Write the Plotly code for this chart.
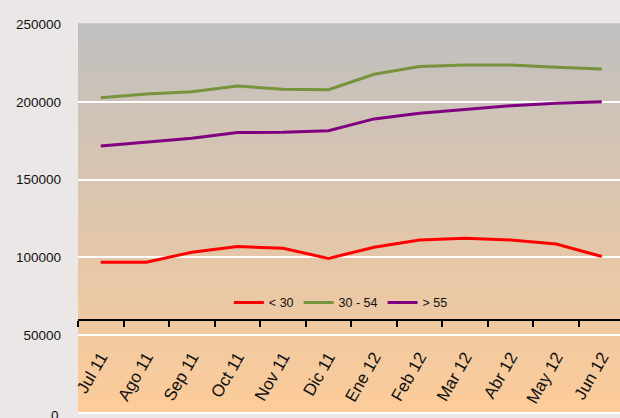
import plotly.graph_objects as go

months = ["Jul 11", "Ago 11", "Sep 11", "Oct 11", "Nov 11", "Dic 11",
          "Ene 12", "Feb 12", "Mar 12", "Abr 12", "May 12", "Jun 12"]
under_30 = [96800, 96800, 103300, 106900, 105800, 99300,
            106500, 111200, 112300, 111200, 108600, 100500]
age_30_54 = [202600, 205000, 206500, 210200, 208000, 207800,
             217700, 222600, 223700, 223700, 222200, 221100]
over_55 = [171600, 174000, 176500, 180200, 180400, 181400,
           189000, 192600, 195200, 197500, 199000, 200100]
y_ticks = [0, 50000, 100000, 150000, 200000, 250000]

series = [("< 30", under_30, "#FF0000"),
          ("30 - 54", age_30_54, "#77933C"),
          ("> 55", over_55, "#800080")]

fig = go.Figure()
for name, vals, col in series:
    fig.add_trace(go.Scatter(x=months, y=vals, name=name, mode="lines",
                             line=dict(color=col, width=3)))

# vertical gradient background (gray top -> peach bottom)
n = 120
top = (192, 192, 192)
bot = (253, 204, 153)
shapes = []
for i in range(n):
    t = (i + 0.5) / n
    c = tuple(round(top[k] + (bot[k] - top[k]) * t) for k in range(3))
    shapes.append(dict(type="rect", xref="paper", yref="paper",
                       x0=0, x1=1, y0=1 - (i + 1) / n, y1=1 - i / n + 0.002,
                       fillcolor="rgb(%d,%d,%d)" % c, line=dict(width=0),
                       layer="below"))

fig.update_layout(
    width=620, height=418,
    margin=dict(l=78, r=0, t=24, b=4),
    paper_bgcolor="#ECE7E7",
    plot_bgcolor="rgba(0,0,0,0)",
    shapes=shapes,
    font=dict(family="Liberation Sans, Arial, sans-serif", color="#111111"),
    showlegend=True,
    legend=dict(orientation="h", x=0.485, y=0.285, xanchor="center",
                yanchor="middle", bgcolor="rgba(0,0,0,0)",
                font=dict(size=12.5)),
    xaxis=dict(type="category", range=[-0.5, 11.4], anchor="free",
               position=0.2416, showline=True, linecolor="#000000",
               linewidth=1.5, ticks="outside", ticklen=6, tickwidth=1.5,
               tickcolor="#000000", tickson="boundaries", showgrid=False,
               tickangle=-60, tickfont=dict(size=17),
               ticklabelstandoff=20, zeroline=False),
    yaxis=dict(range=[-700, 250000], tickvals=y_ticks,
               ticktext=[str(v) for v in y_ticks],
               showgrid=True, gridcolor="#FFFFFF", gridwidth=2,
               zeroline=False, showline=False, tickfont=dict(size=13.5),
               ticklabelstandoff=16),
    annotations=[dict(text=str(y_ticks[0]), xref="paper", yref="y",
                      x=0, y=y_ticks[0], xanchor="right", yanchor="middle",
                      xshift=-17, yshift=-3, showarrow=False,
                      font=dict(size=13.5, color="#111111"))],
)

fig.write_html("out.html",
               config={"displayModeBar": False},
               post_script="document.body.style.margin='0';"
                           "document.body.style.overflow='hidden';")
